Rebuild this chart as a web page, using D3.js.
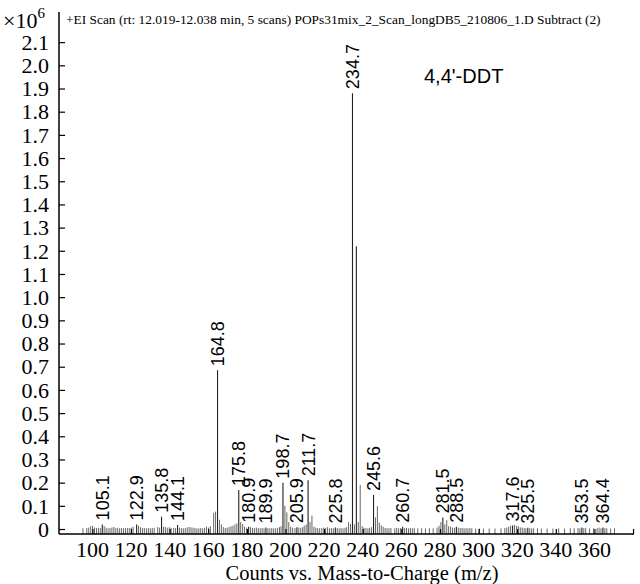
<!DOCTYPE html>
<html>
<head>
<meta charset="utf-8">
<script src="https://cdn.jsdelivr.net/npm/d3@7"></script>
<style>
  body { margin: 0; background: #fff; }
  svg text { fill: #000; }
</style>
</head>
<body>
<div id="chart"></div>
<script>
// labelled peaks (m/z, abundance in 10^6 counts)
const labelMz = [105.1, 122.9, 135.8, 144.1, 164.8, 175.8, 180.9, 189.9, 198.7, 205.9, 211.7,
    225.8, 234.7, 236.7, 245.6, 260.7, 281.5, 288.5, 317.6, 325.5, 353.5, 364.4];
const labelVal = [0.020, 0.020, 0.053, 0.017, 0.685, 0.168, 0.010, 0.006, 0.200, 0.008, 0.210,
    0.006, 1.880, 1.220, 0.147, 0.010, 0.050, 0.010, 0.015, 0.005, 0.006, 0.007];
const labelShown = [true, true, true, true, true, true, true, true, true, true, true,
    true, true, false, true, true, true, true, true, true, true, true];

// other (unlabelled) peaks
const otherMz = [95.1, 97.1, 98.1, 99.1, 100.1, 101.1, 102.1, 103.1, 104.1, 106.1, 107.1, 108.1, 109.1,
    110.1, 111.1, 112.1, 113.1, 114.1, 115.1, 116.1, 117.1, 118.1, 119.1, 120.1, 121.1, 123.9, 124.9,
    125.9, 126.9, 128.0, 129.0, 130.0, 131.0, 132.0, 133.8, 134.8, 136.8, 137.8, 138.8, 139.8, 140.8,
    142.1, 143.1, 145.1, 146.1, 147.1, 148.1, 149.1, 150.1, 151.1, 152.1, 153.1, 154.1, 155.1, 156.1,
    157.1, 158.1, 159.1, 160.1, 161.1, 162.8, 163.8, 165.8, 166.8, 167.8, 168.8, 169.8, 170.8, 171.8,
    172.8, 173.8, 174.8, 176.8, 177.8, 178.8, 179.9, 181.9, 182.9, 183.9, 184.9, 185.9, 186.9, 187.9,
    188.9, 190.9, 191.9, 192.9, 193.9, 194.9, 195.9, 196.9, 197.7, 199.7, 200.7, 201.7, 202.7, 203.7,
    204.9, 206.9, 207.9, 208.9, 209.7, 210.7, 212.7, 213.7, 214.7, 215.7, 216.7, 217.7, 218.8, 219.8,
    220.8, 221.8, 222.8, 223.8, 224.8, 226.8, 227.8, 228.8, 229.8, 230.8, 231.7, 232.7, 233.7, 235.7,
    237.7, 238.7, 239.7, 240.7, 241.7, 242.7, 243.6, 244.6, 246.6, 247.6, 248.6, 249.6, 250.6, 251.6,
    252.6, 253.6, 254.6, 256.6, 257.6, 258.6, 259.6, 261.7, 262.7, 263.7, 264.7, 265.7, 266.7, 268.5,
    270.5, 272.5, 274.5, 276.5, 278.5, 279.5, 280.5, 282.5, 283.5, 284.5, 285.5, 286.5, 287.5, 289.5,
    290.5, 291.5, 292.5, 293.5, 294.5, 295.5, 296.5, 298.5, 300.5, 302.5, 305.5, 308.5, 311.6, 313.6,
    314.6, 315.6, 316.6, 318.6, 319.6, 320.6, 321.6, 322.6, 323.6, 324.5, 326.5, 327.5, 328.5, 330.5,
    332.5, 335.5, 338.5, 341.5, 344.5, 347.5, 349.5, 351.5, 352.5, 354.5, 355.5, 357.5, 359.5, 361.4,
    362.4, 363.4, 365.4, 366.4, 368.4, 370.4];
const otherVal = [0.003, 0.004, 0.006, 0.012, 0.014, 0.006, 0.004, 0.005, 0.004, 0.012, 0.006, 0.003, 0.004,
    0.006, 0.009, 0.004, 0.005, 0.003, 0.004, 0.003, 0.004, 0.005, 0.004, 0.006, 0.010, 0.014, 0.008,
    0.004, 0.005, 0.003, 0.004, 0.003, 0.004, 0.005, 0.008, 0.006, 0.010, 0.009, 0.006, 0.008, 0.004,
    0.005, 0.004, 0.006, 0.004, 0.003, 0.004, 0.007, 0.009, 0.007, 0.006, 0.004, 0.003, 0.003, 0.004,
    0.003, 0.005, 0.010, 0.006, 0.012, 0.070, 0.075, 0.040, 0.020, 0.008, 0.004, 0.006, 0.008, 0.012,
    0.014, 0.020, 0.024, 0.030, 0.022, 0.010, 0.006, 0.008, 0.005, 0.004, 0.006, 0.004, 0.003, 0.004,
    0.003, 0.004, 0.003, 0.004, 0.003, 0.003, 0.005, 0.008, 0.012, 0.100, 0.072, 0.030, 0.010, 0.006,
    0.004, 0.006, 0.005, 0.008, 0.014, 0.020, 0.030, 0.058, 0.010, 0.006, 0.004, 0.003, 0.004, 0.006,
    0.004, 0.008, 0.003, 0.004, 0.003, 0.004, 0.003, 0.004, 0.003, 0.005, 0.008, 0.030, 0.022, 0.020,
    0.030, 0.190, 0.012, 0.006, 0.004, 0.003, 0.005, 0.008, 0.050, 0.098, 0.028, 0.016, 0.010, 0.005,
    0.004, 0.003, 0.004, 0.003, 0.005, 0.003, 0.004, 0.004, 0.005, 0.003, 0.004, 0.003, 0.004, 0.003,
    0.003, 0.002, 0.003, 0.003, 0.006, 0.014, 0.030, 0.020, 0.038, 0.012, 0.010, 0.006, 0.005, 0.006,
    0.004, 0.005, 0.003, 0.004, 0.003, 0.004, 0.003, 0.002, 0.002, 0.002, 0.002, 0.002, 0.003, 0.004,
    0.006, 0.010, 0.014, 0.018, 0.013, 0.012, 0.007, 0.006, 0.004, 0.003, 0.004, 0.003, 0.003, 0.003,
    0.002, 0.002, 0.002, 0.003, 0.002, 0.003, 0.003, 0.004, 0.003, 0.004, 0.005, 0.003, 0.003, 0.004,
    0.006, 0.003, 0.004, 0.003, 0.002, 0.003];

const xTicks = d3.range(100, 381, 20);
const xTickLabels = d3.range(100, 361, 20);
const yTicks = d3.range(0, 2.101, 0.1);

const headerText = "+EI Scan (rt: 12.019-12.038 min, 5 scans) POPs31mix_2_Scan_longDB5_210806_1.D Subtract (2)";
const compound = "4,4'-DDT";
const xTitle = "Counts vs. Mass-to-Charge (m/z)";

const W = 640, H = 584;
const plot = { left: 59, right: 634, top: 12, bottom: 534 };

const svg = d3.select("#chart").append("svg")
    .attr("width", W)
    .attr("height", H);

const x = d3.scaleLinear().domain([82.7, 380.5]).range([plot.left, plot.right]);
const y = d3.scaleLinear().domain([-0.0215, 2.23]).range([plot.bottom, plot.top]);

const serif = "'Liberation Serif', 'Times New Roman', serif";
const sans = "'Liberation Sans', Arial, sans-serif";

// peaks
const others = otherMz.map((m, i) => ({ mz: m, v: otherVal[i] }));
const labelled = labelMz.map((m, i) => ({ mz: m, v: labelVal[i], show: labelShown[i] }));

svg.append("g")
    .selectAll("line")
    .data(others)
    .join("line")
    .attr("x1", d => x(d.mz)).attr("x2", d => x(d.mz))
    .attr("y1", y(y.domain()[0])).attr("y2", d => y(d.v))
    .attr("stroke", "#555")
    .attr("stroke-width", 0.9);

svg.append("g")
    .selectAll("line")
    .data(labelled)
    .join("line")
    .attr("x1", d => x(d.mz)).attr("x2", d => x(d.mz))
    .attr("y1", y(y.domain()[0])).attr("y2", d => y(d.v))
    .attr("stroke", "#222")
    .attr("stroke-width", 1.1);

// peak labels, rotated
svg.append("g")
    .selectAll("text")
    .data(labelled.filter(d => d.show))
    .join("text")
    .attr("transform", d => `translate(${x(d.mz)},${y(d.v) - 4}) rotate(-90)`)
    .attr("dy", "0.36em")
    .attr("text-anchor", "start")
    .style("font-family", sans)
    .style("font-size", "18px")
    .text(d => d.mz.toFixed(1));

// y axis
const yAxis = svg.append("g")
    .attr("transform", `translate(${plot.left},0)`)
    .call(d3.axisRight(y).tickValues(yTicks).tickSize(6).tickFormat(""));
yAxis.select(".domain").remove();
yAxis.selectAll("line").attr("stroke", "#000").attr("stroke-width", 1.2);
svg.append("line")
    .attr("x1", plot.left).attr("x2", plot.left).attr("y1", plot.top).attr("y2", plot.bottom)
    .attr("stroke", "#000").attr("stroke-width", 1.5);

svg.append("g")
    .selectAll("text")
    .data(yTicks)
    .join("text")
    .attr("x", plot.left - 10)
    .attr("y", d => y(d))
    .attr("dy", "0.35em")
    .attr("text-anchor", "end")
    .style("font-family", serif)
    .style("font-size", "22px")
    .text(d => d < 0.05 ? "0" : d3.format(".1f")(d));

// x axis
const xAxis = svg.append("g")
    .attr("transform", `translate(0,${plot.bottom})`)
    .call(d3.axisTop(x).tickValues(xTicks).tickSize(5).tickFormat(""));
xAxis.select(".domain").remove();
xAxis.selectAll("line").attr("stroke", "#000").attr("stroke-width", 1.2);
svg.append("line")
    .attr("x1", plot.left).attr("x2", plot.right).attr("y1", plot.bottom).attr("y2", plot.bottom)
    .attr("stroke", "#000").attr("stroke-width", 1.5);

svg.append("g")
    .selectAll("text")
    .data(xTickLabels)
    .join("text")
    .attr("x", d => x(d))
    .attr("y", 557)
    .attr("text-anchor", "middle")
    .style("font-family", serif)
    .style("font-size", "22px")
    .text(d => d);

svg.append("text")
    .attr("x", 362)
    .attr("y", 580)
    .attr("text-anchor", "middle")
    .style("font-family", serif)
    .style("font-size", "20.5px")
    .text(xTitle);

// scale factor
const mult = svg.append("text")
    .attr("x", 3)
    .attr("y", 28)
    .style("font-family", serif)
    .style("font-size", "22px");
mult.append("tspan").text("\u00d710");
mult.append("tspan").attr("dy", -10).style("font-size", "15px").text("6");

svg.append("text")
    .attr("x", 66)
    .attr("y", 24)
    .style("font-family", serif)
    .style("font-size", "13.4px")
    .text(headerText);

svg.append("text")
    .attr("x", 424)
    .attr("y", 83)
    .style("font-family", sans)
    .style("font-size", "20px")
    .text(compound);
</script>
</body>
</html>
